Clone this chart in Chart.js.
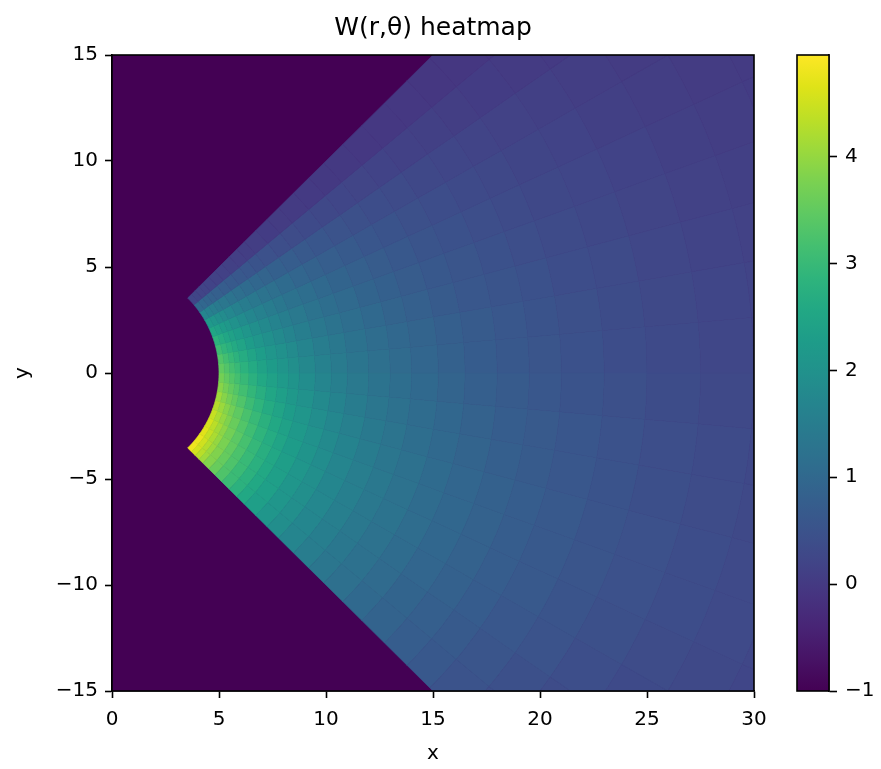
<!DOCTYPE html>
<html>
<head>
<meta charset="utf-8">
<title>W(r,θ) heatmap</title>
<script src="https://cdn.jsdelivr.net/npm/chart.js@4.4.1/dist/chart.umd.min.js"></script>
<style>
  html, body { margin: 0; padding: 0; background: #fff; }
  #wrap { position: relative; width: 881px; height: 769px; }
  #heat { position: absolute; left: 0; top: 0; }
  #cbar { position: absolute; left: 760px; top: 0; }
</style>
</head>
<body>
<div id="wrap">
  <canvas id="heat" width="881" height="769"></canvas>
  <canvas id="cbar" width="121" height="769"></canvas>
</div>
<script>
// W(r,θ) on a polar grid
const radiusEdges = [5, 5.25, 5.5, 5.75, 6, 6.4, 6.8, 7.25, 7.75, 8.25, 8.75, 9.5, 10.25, 11, 12, 13, 14,
  15.25, 16.5, 18, 19.5, 21, 23, 25, 27.5, 30, 32.5, 34];
const angleEdges = [-45, -40, -35, -30, -25, -20, -15, -10, -5, 0, 5, 10, 15, 20, 25, 30, 35, 40, 45]; // degrees

// one row per radius band, one column per 5° sector (-45° .. 45°)
const wValues = [
  [4.81, 4.77, 4.67, 4.57, 4.43, 4.28, 4.09, 3.89, 3.70, 3.50, 3.31, 3.06, 2.82, 2.53, 2.18, 1.70, 1.02, 0.24],
  [4.55, 4.51, 4.42, 4.33, 4.20, 4.06, 3.87, 3.69, 3.50, 3.32, 3.13, 2.90, 2.66, 2.39, 2.07, 1.60, 0.96, 0.22],
  [4.31, 4.28, 4.20, 4.12, 3.99, 3.86, 3.68, 3.51, 3.33, 3.15, 2.97, 2.76, 2.53, 2.26, 1.96, 1.52, 0.91, 0.21],
  [4.09, 4.06, 3.99, 3.92, 3.80, 3.67, 3.51, 3.34, 3.17, 3.00, 2.83, 2.62, 2.40, 2.16, 1.86, 1.44, 0.85, 0.19],
  [3.83, 3.81, 3.75, 3.68, 3.57, 3.46, 3.30, 3.14, 2.98, 2.81, 2.66, 2.46, 2.26, 2.01, 1.74, 1.35, 0.80, 0.17],
  [3.56, 3.54, 3.49, 3.43, 3.33, 3.22, 3.07, 2.93, 2.77, 2.62, 2.48, 2.28, 2.10, 1.87, 1.61, 1.25, 0.74, 0.16],
  [3.29, 3.28, 3.24, 3.19, 3.10, 3.00, 2.86, 2.72, 2.58, 2.43, 2.30, 2.12, 1.94, 1.73, 1.49, 1.16, 0.68, 0.13],
  [3.04, 3.03, 3.00, 2.95, 2.87, 2.78, 2.65, 2.52, 2.39, 2.25, 2.12, 1.96, 1.80, 1.60, 1.38, 1.06, 0.62, 0.12],
  [2.79, 2.79, 2.77, 2.73, 2.66, 2.57, 2.46, 2.34, 2.21, 2.08, 1.97, 1.81, 1.66, 1.48, 1.26, 0.97, 0.57, 0.10],
  [2.58, 2.58, 2.57, 2.54, 2.47, 2.39, 2.28, 2.17, 2.05, 1.93, 1.83, 1.67, 1.53, 1.36, 1.17, 0.90, 0.52, 0.08],
  [2.35, 2.36, 2.35, 2.33, 2.27, 2.20, 2.10, 1.99, 1.88, 1.77, 1.68, 1.54, 1.40, 1.24, 1.06, 0.81, 0.46, 0.07],
  [2.11, 2.12, 2.12, 2.11, 2.06, 1.99, 1.90, 1.81, 1.71, 1.60, 1.51, 1.39, 1.26, 1.12, 0.95, 0.73, 0.41, 0.05],
  [1.91, 1.93, 1.93, 1.92, 1.88, 1.82, 1.74, 1.65, 1.56, 1.46, 1.38, 1.26, 1.14, 1.01, 0.85, 0.65, 0.36, 0.04],
  [1.70, 1.72, 1.74, 1.73, 1.70, 1.65, 1.57, 1.49, 1.40, 1.31, 1.24, 1.13, 1.03, 0.91, 0.76, 0.58, 0.32, 0.02],
  [1.50, 1.53, 1.55, 1.55, 1.52, 1.48, 1.41, 1.34, 1.26, 1.17, 1.10, 1.01, 0.91, 0.80, 0.67, 0.51, 0.28, 0.01],
  [1.33, 1.36, 1.39, 1.39, 1.37, 1.33, 1.27, 1.20, 1.13, 1.05, 1.00, 0.90, 0.81, 0.71, 0.59, 0.45, 0.24, -0.01],
  [1.17, 1.20, 1.23, 1.25, 1.23, 1.20, 1.14, 1.08, 1.01, 0.94, 0.89, 0.80, 0.71, 0.63, 0.52, 0.39, 0.21, -0.01],
  [1.01, 1.05, 1.09, 1.10, 1.09, 1.06, 1.01, 0.96, 0.90, 0.83, 0.79, 0.70, 0.62, 0.54, 0.45, 0.33, 0.17, -0.03],
  [0.87, 0.91, 0.95, 0.97, 0.96, 0.94, 0.90, 0.85, 0.79, 0.72, 0.69, 0.61, 0.55, 0.47, 0.38, 0.28, 0.13, -0.03],
  [0.74, 0.78, 0.83, 0.85, 0.85, 0.83, 0.79, 0.75, 0.69, 0.63, 0.60, 0.53, 0.47, 0.40, 0.32, 0.24, 0.11, -0.04],
  [0.62, 0.67, 0.72, 0.75, 0.75, 0.73, 0.70, 0.66, 0.61, 0.55, 0.52, 0.47, 0.40, 0.34, 0.27, 0.19, 0.08, -0.05],
  [0.51, 0.56, 0.61, 0.64, 0.65, 0.64, 0.61, 0.57, 0.52, 0.47, 0.45, 0.39, 0.33, 0.28, 0.22, 0.15, 0.05, -0.06],
  [0.40, 0.45, 0.51, 0.54, 0.55, 0.54, 0.52, 0.48, 0.44, 0.39, 0.37, 0.33, 0.27, 0.23, 0.17, 0.11, 0.03, -0.07],
  [0.29, 0.35, 0.41, 0.45, 0.46, 0.46, 0.43, 0.40, 0.37, 0.32, 0.30, 0.26, 0.21, 0.17, 0.12, 0.07, 0.01, -0.08],
  [0.20, 0.26, 0.32, 0.36, 0.38, 0.38, 0.36, 0.33, 0.30, 0.25, 0.24, 0.20, 0.16, 0.12, 0.08, 0.04, -0.02, -0.08],
  [0.12, 0.18, 0.25, 0.29, 0.31, 0.31, 0.29, 0.27, 0.24, 0.20, 0.19, 0.15, 0.11, 0.08, 0.04, 0.01, -0.04, -0.08],
  [0.06, 0.12, 0.19, 0.24, 0.26, 0.26, 0.25, 0.23, 0.20, 0.16, 0.15, 0.11, 0.08, 0.05, 0.02, -0.01, -0.04, -0.09]
];
const outsideValue = -1;            // everything outside the wedge
const colorMin = -1, colorMax = 4.95;

const xTickValues = [0, 5, 10, 15, 20, 25, 30];
const yTickValues = [-15, -10, -5, 0, 5, 10, 15];
const cbTickValues = [-1, 0, 1, 2, 3, 4];

// viridis colormap
const viridis = ['#440154', '#471365', '#482475', '#463480', '#414487', '#3b528b', '#355f8d',
  '#2f6c8e', '#2a788e', '#25848e', '#21918c', '#1e9c89', '#22a884', '#2fb47c', '#44bf70',
  '#5ec962', '#7ad151', '#9bd93c', '#bddf26', '#dfe318', '#fde725'];

function hexToRgb(h) {
  const n = parseInt(h.slice(1), 16);
  return [n >> 16, (n >> 8) & 255, n & 255];
}
function viridisColor(v) {
  let t = (v - colorMin) / (colorMax - colorMin);
  t = Math.min(1, Math.max(0, t));
  const pos = t * (viridis.length - 1);
  const i = Math.min(Math.floor(pos), viridis.length - 2);
  const f = pos - i;
  const a = hexToRgb(viridis[i]), b = hexToRgb(viridis[i + 1]);
  const c = a.map((ch, k) => Math.round(ch + (b[k] - ch) * f));
  return `rgb(${c[0]},${c[1]},${c[2]})`;
}

const minusSign = v => String(v).replace('-', '\u2212');
const black = '#000';
Chart.defaults.font.family = '"DejaVu Sans", sans-serif';
Chart.defaults.color = black;

// draws the polar cells through the x/y scales
const heatmapPlugin = {
  id: 'heatmap',
  beforeDatasetsDraw(chart) {
    const { ctx, chartArea: a, scales: { x, y } } = chart;
    ctx.save();
    ctx.beginPath();
    ctx.rect(a.left, a.top, a.right - a.left, a.bottom - a.top);
    ctx.clip();
    ctx.fillStyle = viridisColor(outsideValue);
    ctx.fillRect(a.left, a.top, a.right - a.left, a.bottom - a.top);

    const toPx = (r, deg) => {
      const t = deg * Math.PI / 180;
      return [x.getPixelForValue(r * Math.cos(t)), y.getPixelForValue(r * Math.sin(t))];
    };
    const steps = 6;
    for (let i = 0; i < wValues.length; i++) {
      const r0 = radiusEdges[i], r1 = radiusEdges[i + 1];
      for (let j = 0; j < angleEdges.length - 1; j++) {
        const a0 = angleEdges[j], a1 = angleEdges[j + 1];
        ctx.beginPath();
        for (let k = 0; k <= steps; k++) {
          const p = toPx(r0, a0 + (a1 - a0) * k / steps);
          if (k === 0) ctx.moveTo(p[0], p[1]); else ctx.lineTo(p[0], p[1]);
        }
        for (let k = steps; k >= 0; k--) {
          const p = toPx(r1, a0 + (a1 - a0) * k / steps);
          ctx.lineTo(p[0], p[1]);
        }
        ctx.closePath();
        const col = viridisColor(wValues[i][j]);
        ctx.fillStyle = col;
        ctx.strokeStyle = col;
        ctx.lineWidth = 0.7;
        ctx.fill();
        ctx.stroke();
      }
    }
    ctx.restore();
  }
};

// frame on all four sides
const framePlugin = {
  id: 'frame',
  afterDraw(chart) {
    const { ctx, chartArea: a } = chart;
    ctx.save();
    ctx.strokeStyle = black;
    ctx.lineWidth = 1.6;
    ctx.strokeRect(a.left, a.top, a.right - a.left, a.bottom - a.top);
    ctx.restore();
  }
};

const colorbarPlugin = {
  id: 'colorbar',
  beforeDatasetsDraw(chart) {
    const { ctx, chartArea: a, scales: { y } } = chart;
    const g = ctx.createLinearGradient(0, y.getPixelForValue(colorMin), 0, y.getPixelForValue(colorMax));
    viridis.forEach((c, i) => g.addColorStop(i / (viridis.length - 1), c));
    ctx.save();
    ctx.fillStyle = g;
    ctx.fillRect(a.left, a.top, a.right - a.left, a.bottom - a.top);
    ctx.restore();
  }
};

const tickFont = { size: 20 };
const axisGrid = { drawOnChartArea: false, drawTicks: true, tickLength: 7, tickColor: black, tickWidth: 1.6 };
const axisBorder = { display: true, color: black, width: 1.6 };

new Chart(document.getElementById('heat'), {
  type: 'scatter',
  data: { datasets: [{ data: [] }] },
  options: {
    responsive: false,
    animation: false,
    layout: { padding: { left: 0, top: 0, right: 127, bottom: 0 } },
    plugins: { legend: { display: false }, tooltip: { enabled: false } },
    scales: {
      // empty top axis only carries the title, centred over the plot
      top: {
        type: 'linear', position: 'top', min: 0, max: 30,
        afterFit: s => { s.height = 55; },
        ticks: { display: false },
        grid: { display: false },
        border: { display: false },
        title: { display: true, text: 'W(r,θ) heatmap', color: black, font: { size: 25 }, padding: { top: 13, bottom: 0 } }
      },
      x: {
        type: 'linear', min: 0, max: 30,
        afterBuildTicks: s => { s.ticks = xTickValues.map(v => ({ value: v })); },
        afterFit: s => { s.height = 78; },
        ticks: { font: tickFont, color: black, padding: 10, autoSkip: false, maxRotation: 0, callback: minusSign },
        grid: axisGrid,
        border: axisBorder,
        title: { display: true, text: 'x', color: black, font: { size: 20 }, padding: { top: 0, bottom: 3 } }
      },
      y: {
        type: 'linear', min: -15, max: 15,
        afterBuildTicks: s => { s.ticks = yTickValues.map(v => ({ value: v })); },
        afterFit: s => { s.width = 112; },
        ticks: { font: tickFont, color: black, padding: 7, autoSkip: false, callback: minusSign },
        grid: axisGrid,
        border: axisBorder,
        title: { display: true, text: 'y', color: black, font: { size: 20 }, padding: { top: 11, bottom: 0 } }
      }
    }
  },
  plugins: [heatmapPlugin, framePlugin]
});

new Chart(document.getElementById('cbar'), {
  type: 'scatter',
  data: { datasets: [{ data: [] }] },
  options: {
    responsive: false,
    animation: false,
    layout: { padding: { left: 37, top: 55, right: 0, bottom: 78 } },
    plugins: { legend: { display: false }, tooltip: { enabled: false } },
    scales: {
      x: { display: false, min: 0, max: 1 },
      y: {
        position: 'right', min: colorMin, max: colorMax,
        afterBuildTicks: s => { s.ticks = cbTickValues.map(v => ({ value: v })); },
        afterFit: s => { s.width = 52; },
        ticks: { font: tickFont, color: black, padding: 8, autoSkip: false, callback: minusSign },
        grid: { drawOnChartArea: false, drawTicks: true, tickLength: 8, tickColor: black, tickWidth: 1.6 },
        border: axisBorder
      }
    }
  },
  plugins: [colorbarPlugin, framePlugin]
});
</script>
</body>
</html>
